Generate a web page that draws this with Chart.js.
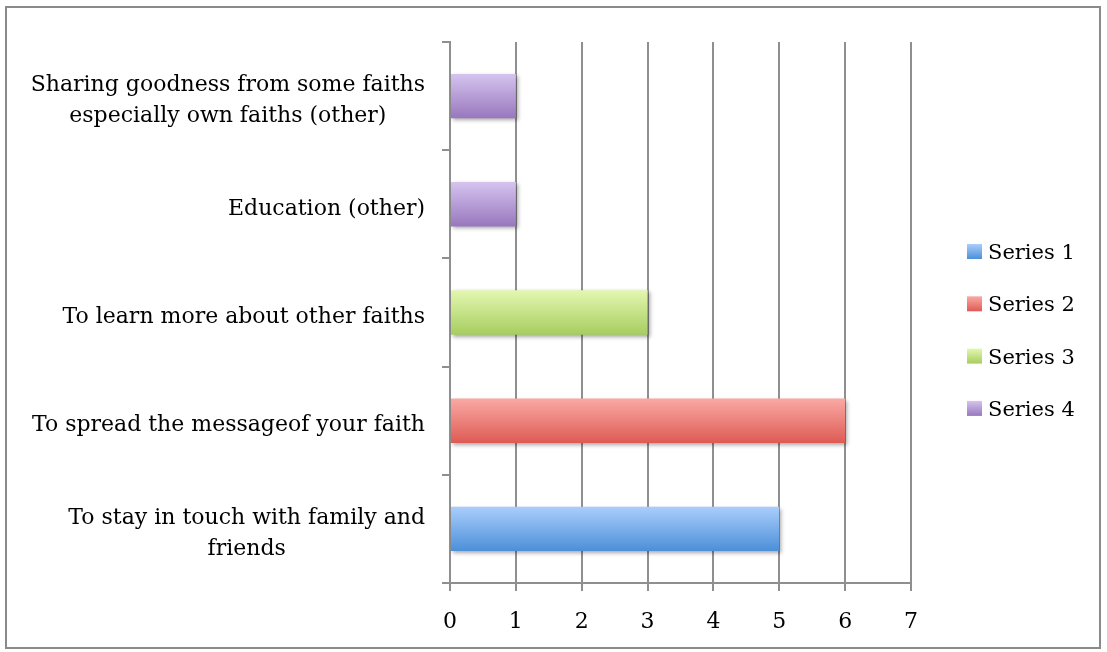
<!DOCTYPE html>
<html>
<head>
<meta charset="utf-8">
<script src="https://cdn.jsdelivr.net/npm/chart.js@4/dist/chart.umd.min.js"></script>
<style>
  html, body { margin: 0; padding: 0; background: #fff; }
  canvas { display: block; }
</style>
</head>
<body>
<canvas id="c" width="1107" height="652"></canvas>
<script>
// Categories listed bottom -> top (Excel order)
const categories = [
  ["To stay in touch with family and", "friends"],
  ["To spread the messageof your faith"],
  ["To learn more about other faiths"],
  ["Education (other)"],
  ["Sharing goodness from some faiths", "especially own faiths (other)"]
];
const seriesNames = ["Series 1", "Series 2", "Series 3", "Series 4"];
const series1 = [5, null, null, null, null];
const series2 = [null, 6, null, null, null];
const series3 = [null, null, 3, null, null];
const series4 = [null, null, null, 1, 1];
const xTicks = [0, 1, 2, 3, 4, 5, 6, 7];

const FONT = "'DejaVu Serif', 'Liberation Serif', serif";
const palette = [
  ['#aacefc', '#4c8fd9'],
  ['#faa9a5', '#de5b54'],
  ['#e3f7b1', '#a7cd5f'],
  ['#d5c4ef', '#9877bd']
];
const BAR_PCT = 0.41;

function gradFill(i) {
  return (ctx) => {
    const chart = ctx.chart;
    const ys = chart.scales && chart.scales.y;
    if (!chart.chartArea || !ys || ctx.dataIndex === undefined) return palette[i][1];
    const px = ys.getPixelForValue(ctx.dataIndex);
    const half = (ys.height / categories.length) * BAR_PCT / 2;
    const g = chart.ctx.createLinearGradient(0, px - half, 0, px + half);
    g.addColorStop(0, palette[i][0]);
    g.addColorStop(1, palette[i][1]);
    return g;
  };
}

const seriesData = [series1, series2, series3, series4];
const datasets = seriesData.map((d, i) => ({
  label: seriesNames[i],
  data: d,
  backgroundColor: gradFill(i),
  borderWidth: 0,
  categoryPercentage: 1,
  barPercentage: BAR_PCT
}));

const GRID = '#8f8f8f';

const frame = {
  id: 'frame',
  beforeDraw(chart) {
    const c = chart.ctx;
    c.save();
    c.fillStyle = '#fff';
    c.fillRect(0, 0, chart.width, chart.height);
    c.strokeStyle = '#8a8a8a';
    c.lineWidth = 2;
    c.strokeRect(6, 7, 1094, 641);
    c.restore();
  },
  beforeDatasetsDraw(chart) {
    const c = chart.ctx;
    c.save();
    c.shadowColor = 'rgba(0,0,0,0.35)';
    c.shadowBlur = 4;
    c.shadowOffsetX = 2;
    c.shadowOffsetY = 2;
  },
  afterDatasetsDraw(chart) {
    chart.ctx.restore();
  },
  afterDraw(chart) {
    const c = chart.ctx;
    const ys = chart.scales.y;
    c.save();
    c.font = '22px ' + FONT;
    c.fillStyle = '#000';
    c.textBaseline = 'middle';
    c.textAlign = 'center';
    const right = 425, lh = 31;
    categories.forEach((lines, i) => {
      const py = ys.getPixelForValue(i) + 5;
      const w = Math.max(...lines.map(l => c.measureText(l).width));
      const cx = right - w / 2;
      const y0 = py - (lines.length - 1) * lh / 2;
      lines.forEach((l, k) => c.fillText(l, cx, y0 + k * lh));
    });
    // legend
    const lx = 967, ly0 = 251.5, step = 52.3, box = 15;
    c.textAlign = 'left';
    c.font = '21px ' + FONT;
    chart.data.datasets.forEach((ds, i) => {
      const cy = ly0 + i * step;
      const g = c.createLinearGradient(0, cy - box / 2, 0, cy + box / 2);
      g.addColorStop(0, palette[i][0]);
      g.addColorStop(1, palette[i][1]);
      c.fillStyle = g;
      c.fillRect(lx, cy - box / 2, box, box);
      c.fillStyle = '#000';
      c.fillText(ds.label, 988, cy + 2);
    });
    c.restore();
  }
};

new Chart(document.getElementById('c'), {
  type: 'bar',
  data: { labels: categories.map(l => l.join(' ')), datasets },
  options: {
    indexAxis: 'y',
    responsive: false,
    animation: false,
    devicePixelRatio: 1,
    layout: { padding: { left: 0, right: 196, top: 42, bottom: 0 } },
    plugins: { legend: { display: false }, tooltip: { enabled: false } },
    scales: {
      x: {
        stacked: true,
        min: 0, max: 7,
        afterBuildTicks: (s) => { s.ticks = xTicks.map(v => ({ value: v })); },
        afterFit: (s) => { s.height = 69; },
        grid: { color: GRID, lineWidth: 2, tickLength: 8, drawTicks: true },
        border: { color: GRID, width: 2 },
        ticks: { color: '#000', font: { family: FONT, size: 22 }, padding: 18, maxRotation: 0 }
      },
      y: {
        stacked: true,
        reverse: true,
        afterFit: (s) => { s.width = 450; },
        grid: { color: GRID, lineWidth: 2, tickLength: 8, drawOnChartArea: false, offset: true },
        border: { color: GRID, width: 2 },
        ticks: { display: false }
      }
    }
  },
  plugins: [frame]
});
</script>
</body>
</html>
